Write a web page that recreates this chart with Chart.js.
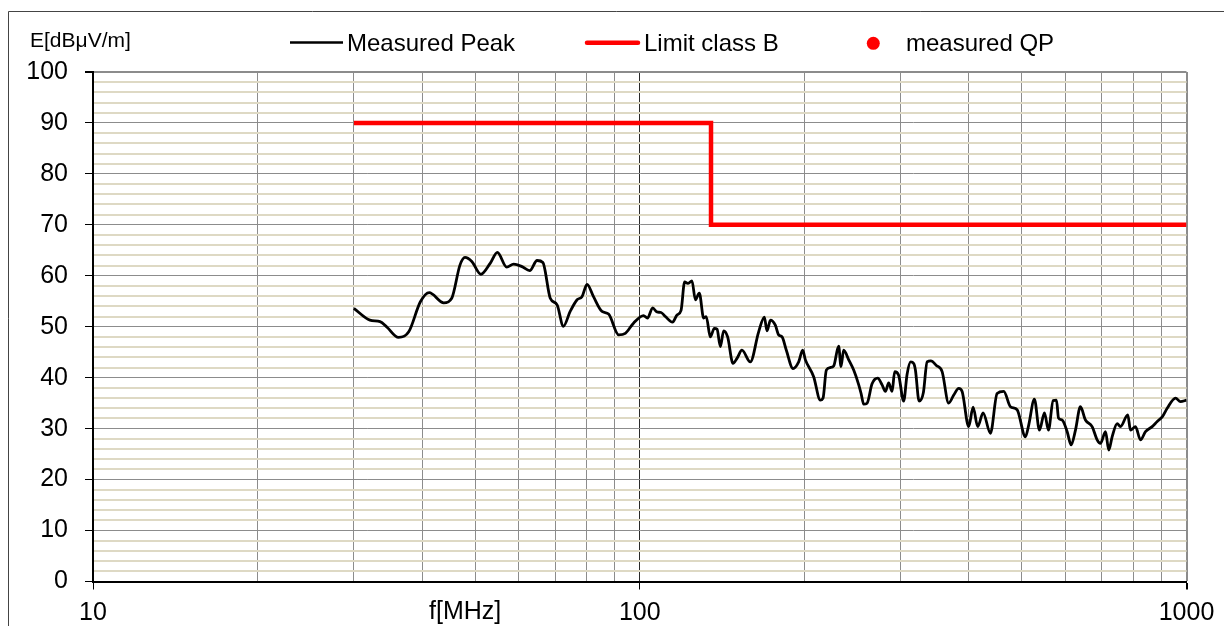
<!DOCTYPE html>
<html>
<head>
<meta charset="utf-8">
<script src="https://cdn.jsdelivr.net/npm/chart.js@4.4.1/dist/chart.umd.min.js"></script>
<style>
  html, body { margin: 0; padding: 0; background: #fff; }
  canvas { display: block; }
</style>
</head>
<body>
<canvas id="emcChart" width="1224" height="626"></canvas>
<script>
// frequencies in MHz, levels in dBuV/m
const peakFreq = [
  30.0, 32.1, 33.5, 34.5, 36.2, 37.8, 39.7, 41.2, 43.8, 45.3,
  46.9, 47.9, 49.3, 51.2, 53.3, 54.9, 57.1, 58.8, 60.9, 62.9,
  64.9, 66.5, 68.6, 70.6, 72.5, 74.6, 76.8, 78.4, 80.1, 82.3,
  85.3, 87.7, 91.5, 94.1, 97.4, 101.6, 103.3, 105.6, 107.5, 109.4,
  111.4, 114.8, 117.0, 119.0, 120.8, 122.4, 124.6, 126.4, 128.5, 130.9,
  132.3, 134.6, 136.9, 138.5, 140.4, 142.4, 144.8, 148.1, 150.6, 153.8,
  159.3, 165.0, 169.0, 170.9, 173.4, 177.0, 179.5, 182.1, 185.4, 190.7,
  195.3, 198.6, 200.9, 208.0, 213.9, 216.4, 219.4, 223.2, 226.3, 231.1,
  233.4, 236.0, 241.1, 246.2, 251.5, 254.0, 256.8, 260.5, 266.0, 272.4,
  277.5, 281.4, 285.3, 289.4, 292.6, 297.5, 303.9, 308.3, 313.0, 317.0,
  319.3, 324.3, 330.2, 335.4, 340.8, 348.8, 357.3, 367.3, 375.2, 383.2,
  388.7, 399.6, 407.1, 415.1, 424.6, 437.9, 450.4, 463.2, 476.4, 490.0,
  507.5, 514.5, 527.0, 538.3, 549.8, 559.1, 570.3, 578.3, 583.3, 592.3,
  605.0, 615.2, 626.5, 639.7, 653.4, 672.0, 686.4, 695.9, 711.0, 720.8,
  731.1, 746.8, 757.2, 780.9, 789.8, 806.7, 823.8, 841.4, 865.4, 884.0,
  902.8, 921.9, 954.8, 975.0, 1000
];
const peakLevel = [
  53.6, 51.3, 51.0, 49.9, 47.9, 49.0, 54.9, 56.7, 54.7, 55.6,
  62.1, 63.6, 62.8, 60.3, 62.5, 64.6, 61.7, 62.3, 61.8, 61.0,
  63.0, 62.6, 55.6, 54.3, 50.1, 53.0, 55.3, 55.9, 58.3, 55.9,
  53.0, 52.5, 48.4, 48.7, 50.7, 52.2, 51.7, 53.7, 52.9, 52.8,
  52.0, 50.9, 52.3, 53.2, 58.8, 58.5, 59.0, 55.3, 56.6, 51.7,
  52.0, 48.0, 49.7, 49.5, 46.1, 49.2, 48.0, 42.8, 43.8, 45.4,
  43.1, 49.0, 51.9, 49.2, 51.3, 50.3, 48.4, 48.0, 45.4, 41.8,
  43.1, 45.4, 43.5, 40.2, 35.6, 36.0, 41.5, 42.0, 42.3, 46.2,
  42.2, 45.4, 43.5, 41.5, 38.6, 36.9, 34.8, 35.0, 38.8, 39.9,
  38.6, 37.3, 39.0, 37.3, 41.2, 40.5, 35.4, 40.7, 43.1, 42.8,
  41.5, 35.4, 37.1, 43.1, 43.3, 42.4, 41.2, 35.0, 36.6, 37.9,
  37.3, 30.4, 34.2, 30.4, 33.1, 29.1, 36.9, 37.3, 34.3, 33.7,
  28.4, 30.7, 35.8, 29.7, 33.1, 29.7, 35.5, 35.6, 32.1, 31.7,
  29.4, 26.8, 29.7, 34.3, 31.7, 30.4, 27.8, 27.1, 29.4, 25.8,
  28.4, 31.0, 30.4, 32.7, 29.7, 30.4, 27.8, 29.4, 30.4, 31.4,
  32.3, 34.0, 36.0, 35.3, 35.6
];
const limitFreq = [30, 135, 135, 1000];
const limitLevel = [90, 90, 70, 70];
const qpFreq = [];
const qpLevel = [];

const xTicks = [10, 20, 30, 40, 50, 60, 70, 80, 90, 100,
  200, 300, 400, 500, 600, 700, 800, 900, 1000];
const xLabels = [10, 100, 1000];
const yMajorStep = 10;

const FONT = '"Liberation Sans", Arial, sans-serif';
const toPoints = (xs, ys) => xs.map((x, i) => ({ x: x, y: ys[i] }));

const decorations = {
  id: 'decorations',
  beforeDraw(chart) {
    const c = chart.ctx;
    c.save();
    c.fillStyle = '#fff';
    c.fillRect(0, 0, chart.width, chart.height);
    c.strokeStyle = '#444';
    c.lineWidth = 1;
    c.beginPath();
    c.moveTo(8.5, chart.height);
    c.lineTo(8.5, 11.5);
    c.lineTo(chart.width, 11.5);
    c.stroke();
    c.restore();
  },
  afterDraw(chart) {
    const c = chart.ctx;
    const ds = chart.data.datasets;
    c.save();
    c.fillStyle = '#000';
    c.textBaseline = 'alphabetic';
    c.textAlign = 'left';

    // axis titles
    c.font = '21px ' + FONT;
    c.fillText('E[dBμV/m]', 30, 46.5);
    c.font = '25px ' + FONT;
    c.fillText('f[MHz]', 429, 619);

    // legend
    c.font = '24px ' + FONT;
    c.lineCap = 'butt';
    c.strokeStyle = ds[0].borderColor;
    c.lineWidth = 2.5;
    c.beginPath(); c.moveTo(290, 42.5); c.lineTo(343, 42.5); c.stroke();
    c.fillText(ds[0].label, 347, 51);

    c.strokeStyle = ds[1].borderColor;
    c.lineWidth = 4.5;
    c.lineCap = 'round';
    c.beginPath(); c.moveTo(587, 42.7); c.lineTo(638, 42.7); c.stroke();
    c.fillText(ds[1].label, 644, 51);

    c.fillStyle = ds[2].backgroundColor;
    c.beginPath(); c.arc(873.3, 43.3, 6.5, 0, Math.PI * 2); c.fill();
    c.fillStyle = '#000';
    c.fillText(ds[2].label, 906, 51);
    c.restore();
  }
};

new Chart(document.getElementById('emcChart'), {
  type: 'line',
  data: {
    datasets: [
      {
        label: 'Measured Peak',
        data: toPoints(peakFreq, peakLevel),
        borderColor: '#000000',
        borderWidth: 2.8,
        pointRadius: 0,
        cubicInterpolationMode: 'monotone',
        fill: false,
        order: 2
      },
      {
        label: 'Limit class B',
        data: toPoints(limitFreq, limitLevel),
        borderColor: '#ff0000',
        borderWidth: 4.5,
        pointRadius: 0,
        tension: 0,
        fill: false,
        order: 1
      },
      {
        label: 'measured QP',
        data: toPoints(qpFreq, qpLevel),
        showLine: false,
        pointRadius: 6.5,
        backgroundColor: '#ff0000',
        borderColor: '#ff0000',
        order: 0
      }
    ]
  },
  options: {
    responsive: false,
    devicePixelRatio: 1,
    animation: false,
    layout: { padding: { top: 72, right: 37.5, left: 0, bottom: 0 } },
    plugins: {
      legend: { display: false },
      tooltip: { enabled: false }
    },
    scales: {
      x: {
        type: 'logarithmic',
        min: 10,
        max: 1000,
        afterBuildTicks: (scale) => {
          scale.ticks = xTicks.map(v => ({ value: v }));
        },
        afterFit: (scale) => { scale.height = 44.5; },
        ticks: {
          autoSkip: false,
          maxRotation: 0,
          padding: 9,
          color: '#000',
          font: { size: 25, family: FONT },
          callback: (v) => xLabels.includes(v) ? String(v) : ''
        },
        grid: {
          color: (ctx) => ctx.tick && ctx.tick.value === 100 ? '#2a2a2a' : '#8c8c8c',
          lineWidth: (ctx) => ctx.tick && ctx.tick.value === 1000 ? 2 : 1,
          tickLength: 8,
          tickColor: (ctx) => ctx.tick && xLabels.includes(ctx.tick.value) ? '#000' : 'rgba(0,0,0,0)'
        },
        border: { color: '#000', width: 2 }
      },
      y: {
        min: 0,
        max: 100,
        afterFit: (scale) => { scale.width = 93; },
        ticks: {
          stepSize: 2,
          autoSkip: false,
          padding: 17,
          color: '#000',
          font: { size: 25, family: FONT },
          callback: (v) => v % yMajorStep === 0 ? String(v) : ''
        },
        grid: {
          z: -1,
          color: (ctx) => ctx.tick && ctx.tick.value % yMajorStep === 0 ? '#8c8c8c' : '#ded9c4',
          lineWidth: (ctx) => {
            if (!ctx.tick) return 1;
            if (ctx.tick.value === 100) return 2;
            return ctx.tick.value % yMajorStep === 0 ? 1 : 2;
          },
          tickLength: 8,
          tickColor: (ctx) => ctx.tick && ctx.tick.value % yMajorStep === 0 ? '#000' : 'rgba(0,0,0,0)'
        },
        border: { color: '#000', width: 2 }
      }
    }
  },
  plugins: [decorations]
});
</script>
</body>
</html>
